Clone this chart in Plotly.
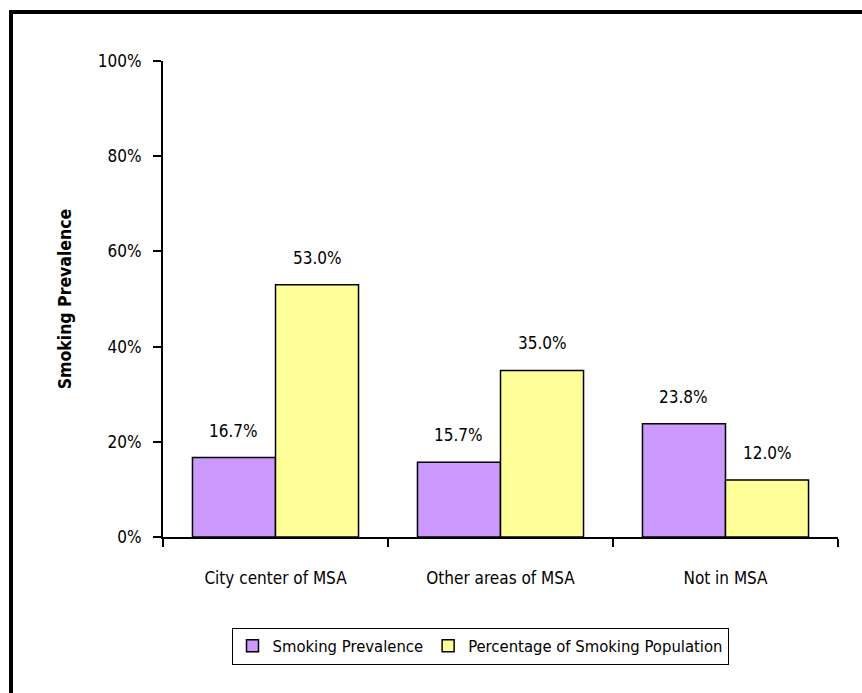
import plotly.graph_objects as go

categories = ["City center of MSA", "Other areas of MSA", "Not in MSA"]
series_names = ["Smoking Prevalence", "Percentage of Smoking Population"]
prevalence = [16.7, 15.7, 23.8]
population = [53.0, 35.0, 12.0]
y_ticks = [0, 20, 40, 60, 80, 100]
y_tick_labels = ["0%", "20%", "40%", "60%", "80%", "100%"]

FONT = "Liberation Sans Narrow, DejaVu Sans Condensed, Arial Narrow, sans-serif"
colors = ["#CC99FF", "#FFFF99"]
bargap = 0.262

fig = go.Figure()
for name, vals, col in zip(series_names, [prevalence, population], colors):
    fig.add_trace(go.Bar(
        x=categories, y=vals, name=name,
        marker=dict(color=col, line=dict(color="black", width=1.5)),
        hoverinfo="skip",
    ))

# value labels above bars
half = (1 - bargap) / 2
for j, vals in enumerate([prevalence, population]):
    for i, v in enumerate(vals):
        fig.add_annotation(
            x=i + (j - 0.5) * half, y=v, xref="x", yref="y",
            text=f"{v:.1f}%", showarrow=False,
            yanchor="middle", yshift=27,
            font=dict(family=FONT, size=17, color="black"),
        )

W, H = 862, 693
L, R, T, B = 163, 24, 61, 156
pw, ph = W - L - R, H - T - B

def px_x(p):
    return (p - L) / pw

def px_y(p):
    return (H - B - p) / ph

# outer thick border (top and left visible)
fig.add_shape(type="line", xref="paper", yref="paper",
              x0=px_x(11), x1=px_x(W + 10), y0=px_y(12), y1=px_y(12),
              line=dict(color="black", width=4))
fig.add_shape(type="line", xref="paper", yref="paper",
              x0=px_x(11), x1=px_x(11), y0=px_y(10), y1=px_y(H + 10),
              line=dict(color="black", width=4))

fig.update_layout(
    width=W, height=H,
    margin=dict(l=L, r=R, t=T, b=B, autoexpand=False),
    paper_bgcolor="white", plot_bgcolor="white",
    barmode="group", bargap=bargap, bargroupgap=0,
    font=dict(family=FONT, size=16, color="black"),
    showlegend=True,
    legend=dict(
        orientation="h", x=px_x(480), y=px_y(646),
        xanchor="center", yanchor="middle",
        bordercolor="black", borderwidth=1,
        font=dict(family=FONT, size=16.5, color="black"),
        itemwidth=30, tracegroupgap=0,
    ),
    xaxis=dict(
        type="category", showline=True, linecolor="black", linewidth=2,
        ticks="outside", tickson="boundaries", ticklen=8, tickwidth=2,
        tickcolor="black", showgrid=False, zeroline=False,
        ticklabelstandoff=25, tickfont=dict(family=FONT, size=17),
    ),
    yaxis=dict(
        range=[0, 100], tickvals=y_ticks, ticktext=y_tick_labels,
        showline=True, linecolor="black", linewidth=2,
        ticks="outside", ticklen=8, tickwidth=2, tickcolor="black",
        showgrid=False, zeroline=False,
        ticklabelstandoff=8, tickfont=dict(family=FONT, size=17),
        title=dict(text="<b>Smoking Prevalence</b>", standoff=22,
                   font=dict(family=FONT, size=17.5)),
    ),
)

fig.write_html("out.html", config={"displayModeBar": False},
               post_script="document.body.style.margin='0px';")
